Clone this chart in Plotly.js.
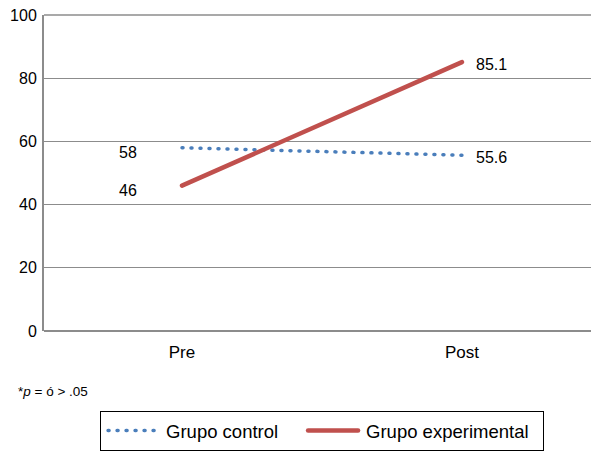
<!DOCTYPE html>
<html><head><meta charset="utf-8">
<script src="https://cdn.plot.ly/plotly-3.0.1.min.js"></script>
<style>html,body{margin:0;padding:0;background:#fff}#chart{width:591px;height:451px}</style>
</head><body><div id="chart"></div>
<script>
const categories = ["Pre", "Post"];
const controlValues = [58, 55.6];
const experimentalValues = [46, 85.1];
const seriesNames = ["Grupo control", "Grupo experimental"];
const yTicks = [0, 20, 40, 60, 80, 100];

const font = "Liberation Sans, Arial, Helvetica, sans-serif";
const traces = [
  {x: categories, y: controlValues, name: seriesNames[0], mode: "lines", type: "scatter",
   legendwidth: 130,
   line: {color: "#4A7EBB", width: 3.5, dash: "1px,8px"}},
  {x: categories, y: experimentalValues, name: seriesNames[1], mode: "lines", type: "scatter",
   legendwidth: 172,
   line: {color: "#C0504D", width: 4.5}}
];
const anns = [];
[controlValues, experimentalValues].forEach((vals, si) => {
  vals.forEach((v, i) => {
    anns.push({x: i, y: v, xref: "x", yref: "y", text: String(v), showarrow: false,
      xshift: i === 0 ? -54 : 30, yshift: i === 0 ? -5 : -2,
      font: {family: font, size: 16, color: "#000"}});
  });
});
anns.push({xref: "paper", yref: "paper", x: -0.0512, y: -0.193, xanchor: "left", yanchor: "middle",
  text: "*<i>p</i> = ó > .05", showarrow: false, font: {family: font, size: 13.5, color: "#000"}});

const layout = {
  width: 591, height: 451,
  margin: {l: 44, r: 0, t: 15, b: 120},
  paper_bgcolor: "#fff", plot_bgcolor: "#fff",
  showlegend: true,
  legend: {orientation: "h", x: 0.1025, y: -0.253, xanchor: "left", yanchor: "top",
    bordercolor: "#000", borderwidth: 1, font: {family: font, size: 18.5, color: "#000"},
    itemwidth: 55, traceorder: "normal"},
  xaxis: {type: "category", range: [-0.493, 1.461], showgrid: false, zeroline: false,
    showline: false, ticks: "", ticklabelstandoff: 9,
    tickfont: {family: font, size: 17, color: "#000"}, fixedrange: true},
  yaxis: {range: [0, 100], tickvals: yTicks, showgrid: true, gridcolor: "#8c8c8c", gridwidth: 1,
    zeroline: false, showline: true, linecolor: "#8c8c8c", linewidth: 2, mirror: false,
    ticks: "", ticklen: 0, ticklabelstandoff: 2,
    tickfont: {family: font, size: 16, color: "#000"}, fixedrange: true},
  annotations: anns,
  shapes: [
    {type: "line", xref: "paper", yref: "paper", x0: 0, x1: 1, y0: 1, y1: 1, line: {color: "#8c8c8c", width: 1.5}},
    {type: "line", xref: "paper", yref: "paper", x0: 0, x1: 1, y0: 0, y1: 0, line: {color: "#8c8c8c", width: 2}}
  ]
};
Plotly.newPlot("chart", traces, layout, {displayModeBar: false, staticPlot: true}).then(gd => {
  gd.querySelectorAll(".scatterlayer path.js-line, .legendlines path").forEach(p => {
    p.style.strokeLinecap = "round";
  });
  gd.querySelectorAll(".legendlines path").forEach(p => {
    p.setAttribute("d", "M7,0h50");
  });
});
</script></body></html>
